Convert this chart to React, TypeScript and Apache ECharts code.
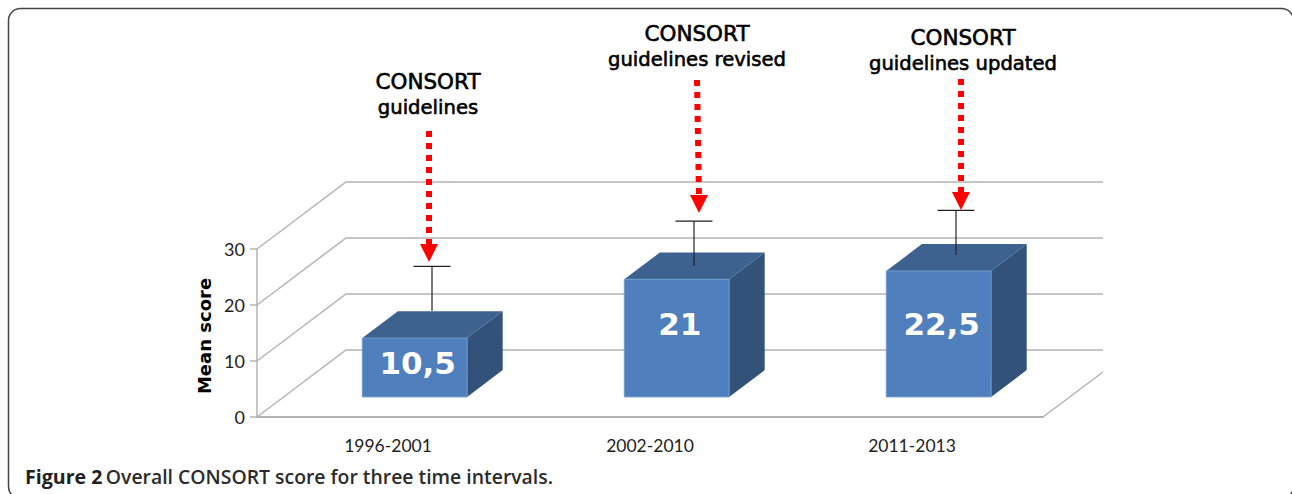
import React, { useEffect, useRef } from "react";
import * as echarts from "echarts";

const categories = ["1996-2001", "2002-2010", "2011-2013"];
const meanScores = [10.5, 21, 22.5];
const errorBases = [13, 21, 23];
const errorTops = [20.9, 29, 30.9];
const labelLevels = [6, 13, 13];
const scoreTicks = [0, 10, 20, 30];
const yAxisTitle = "Mean score";
const captionLead = "Figure 2";
const captionRest = "Overall CONSORT score for three time intervals.";
const noteFirstLines = ["CONSORT", "CONSORT", "CONSORT"];
const noteSecondLines = ["guidelines", "guidelines revised", "guidelines updated"];

const WALL_DX = 89;
const WALL_DY = -67;
const FRONT = 0.3;
const DEPTH = 0.4;
const BAR_WIDTH = 0.4;
const GRID_COLOR = "#b4b4b4";
const HAND_FONT = '"DejaVu Sans", sans-serif';

const noteGeometry = [
  { tx: 428, y1: 81, y2: 107, x1: 429, x2: 429, top: 131, tip: 262 },
  { tx: 697, y1: 33, y2: 59, x1: 697, x2: 699, top: 80, tip: 213 },
  { tx: 963, y1: 37, y2: 63, x1: 961, x2: 961, top: 79, tip: 210 },
];

function renderWalls(params: any, api: any) {
  const sys = params.coordSys;
  const y = api.coord([0, api.value(1)])[1];
  const left = sys.x;
  const right = sys.x + sys.width;
  const style = { stroke: GRID_COLOR, lineWidth: 1.5, fill: "none" };
  const children: any[] = [
    {
      type: "polyline",
      shape: { points: [[left, y], [left + WALL_DX, y + WALL_DY], [right + 60, y + WALL_DY]] },
      style,
    },
  ];
  if (api.value(1) === 0) {
    children.push({
      type: "line",
      shape: { x1: right, y1: y, x2: right + 60, y2: y - 45 },
      style,
    });
  }
  return { type: "group", children };
}

function renderBars(params: any, api: any) {
  const i = api.value(0);
  const value = api.value(1);
  const band = api.size([1, 0])[0];
  const base = api.coord([i, 0]);
  const topPt = api.coord([i, value]);
  const w = band * BAR_WIDTH;
  const fx = base[0] + WALL_DX * FRONT - w / 2;
  const fb = base[1] + WALL_DY * FRONT;
  const ft = topPt[1] + WALL_DY * FRONT;
  const ddx = WALL_DX * DEPTH;
  const ddy = WALL_DY * DEPTH;
  const midX = fx + w / 2 + ddx / 2 - 0.5;
  const midShift = WALL_DY * (FRONT + DEPTH / 2);
  const stemLow = api.coord([i, api.value(2)])[1] + midShift;
  const stemHigh = api.coord([i, api.value(3)])[1] + midShift;
  const labelY = api.coord([i, api.value(4)])[1] + WALL_DY * FRONT;
  const err = { stroke: "#222", lineWidth: 1.2, fill: "none" };
  return {
    type: "group",
    children: [
      {
        type: "polygon",
        shape: { points: [[fx, ft], [fx + w, ft], [fx + w + ddx, ft + ddy], [fx + ddx, ft + ddy]] },
        style: { fill: "#3d628f" },
      },
      {
        type: "polygon",
        shape: { points: [[fx + w, ft], [fx + w + ddx, ft + ddy], [fx + w + ddx, fb + ddy], [fx + w, fb]] },
        style: { fill: "#325279" },
      },
      {
        type: "rect",
        shape: { x: fx, y: ft, width: w, height: fb - ft },
        style: { fill: "#4f7fbc", stroke: "#6f9acb", lineWidth: 1 },
      },
      { type: "line", shape: { x1: midX, y1: stemLow, x2: midX, y2: stemHigh }, style: err },
      { type: "line", shape: { x1: midX - 18.5, y1: stemHigh, x2: midX + 18.5, y2: stemHigh }, style: err },
      {
        type: "text",
        x: fx + w / 2 + 3,
        y: labelY,
        style: {
          text: String(value).replace(".", ","),
          fill: "#fff",
          font: `bold 31px ${HAND_FONT}`,
          align: "center",
          verticalAlign: "middle",
        },
      },
    ],
  };
}

function buildGraphics() {
  const out: any[] = [
    {
      type: "rect",
      z: 0,
      shape: { x: 8.5, y: 8.5, width: 1285, height: 490, r: 12 },
      style: { fill: "none", stroke: "#444", lineWidth: 1.5 },
    },
    {
      type: "text",
      z: 10,
      x: 25,
      y: 476,
      style: {
        text: `{b|${captionLead}} {r|${captionRest}}`,
        verticalAlign: "middle",
        rich: {
          b: { font: '700 19.6px "Open Sans", sans-serif', fill: "#1f1f1f" },
          r: { font: '600 19.4px "Open Sans", sans-serif', fill: "#2b2b2b" },
        },
      },
    },
  ];
  noteGeometry.forEach((n, i) => {
    [noteFirstLines[i], noteSecondLines[i]].forEach((t, k) => {
      out.push({
        type: "text",
        z: 10,
        x: n.tx,
        y: k === 0 ? n.y1 : n.y2,
        style: {
          text: t,
          fill: "#000",
          font: `${k === 0 ? 21.5 : 19.6}px ${HAND_FONT}`,
          align: "center",
          verticalAlign: "middle",
          stroke: "#000",
          lineWidth: 0.6,
        },
      });
    });
    out.push({
      type: "line",
      z: 10,
      shape: { x1: n.x1, y1: n.top, x2: n.x2, y2: n.tip - 18 },
      style: { stroke: "#ff0000", lineWidth: 6, lineDash: [6, 6] },
    });
    out.push({
      type: "polygon",
      z: 11,
      shape: { points: [[n.x2 - 9, n.tip - 18], [n.x2 + 9, n.tip - 18], [n.x2, n.tip]] },
      style: { fill: "#ff0000" },
    });
  });
  return out;
}

export default function App() {
  const ref = useRef<HTMLDivElement>(null);
  useEffect(() => {
    document.body.style.margin = "0";
    const chart = echarts.init(ref.current!, undefined, { renderer: "svg" });
    chart.setOption({
      animation: false,
      backgroundColor: "#fff",
      grid: { left: 257, right: 249, top: 249, bottom: 77 },
      xAxis: {
        type: "category",
        data: categories,
        axisLine: { lineStyle: { color: GRID_COLOR, width: 2 } },
        axisTick: { length: 6, lineStyle: { color: GRID_COLOR, width: 1.5 } },
        axisLabel: { margin: 19, fontFamily: "Lato, sans-serif", fontSize: 17.5, color: "#222" },
      },
      yAxis: {
        type: "value",
        min: 0,
        max: 30,
        interval: 10,
        name: yAxisTitle,
        nameLocation: "middle",
        nameGap: 38,
        nameRotate: 90,
        nameTextStyle: { fontFamily: HAND_FONT, fontSize: 18, color: "#000", fontWeight: "bold", padding: [0, 0, 0, -6] },
        axisLine: { show: true, lineStyle: { color: GRID_COLOR, width: 1.5 } },
        axisTick: { show: true, length: 7, lineStyle: { color: GRID_COLOR, width: 1.5 } },
        axisLabel: { margin: 12, fontFamily: "Lato, sans-serif", fontSize: 18, color: "#222" },
        splitLine: { show: false },
      },
      series: [
        {
          type: "custom",
          clip: false,
          z: 1,
          renderItem: renderWalls,
          encode: { x: 0, y: 1 },
          data: scoreTicks.map((t) => [0, t]),
          silent: true,
        },
        {
          type: "custom",
          clip: false,
          z: 5,
          renderItem: renderBars,
          encode: { x: 0, y: 1 },
          data: meanScores.map((v, i) => [i, v, errorBases[i], errorTops[i], labelLevels[i]]),
        },
      ],
      graphic: buildGraphics(),
    });
    return () => chart.dispose();
  }, []);
  return <div ref={ref} style={{ width: 1292, height: 494 }} />;
}
